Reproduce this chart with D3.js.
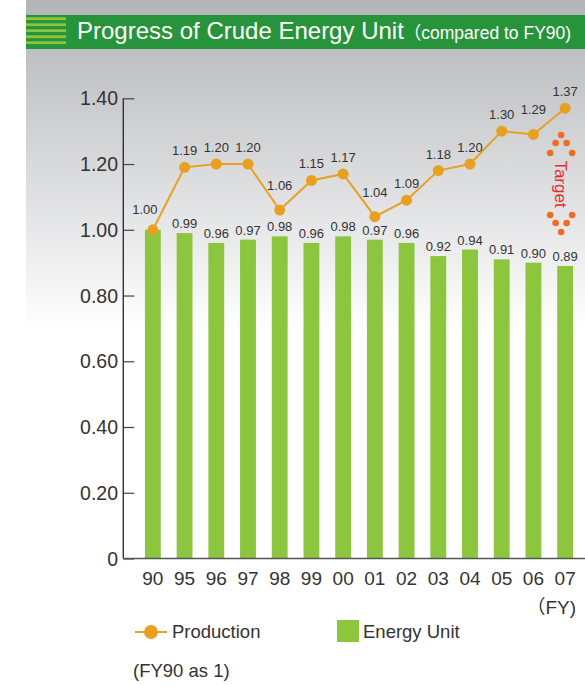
<!DOCTYPE html>
<html>
<head>
<meta charset="utf-8">
<script src="https://cdn.jsdelivr.net/npm/d3@7"></script>
<style>
  html, body { margin: 0; padding: 0; background: #fff; }
  svg { display: block; }
  text { font-family: "Liberation Sans", Arial, "Noto Sans CJK JP", sans-serif; }
</style>
</head>
<body>
<svg id="chart" width="585" height="685"></svg>
<script>
// Fiscal years (FY1990, FY1995 … FY2007)
const years = ["90", "95", "96", "97", "98", "99", "00", "01", "02", "03", "04", "05", "06", "07"];
// Production index, FY90 = 1
const production = [1.00, 1.19, 1.20, 1.20, 1.06, 1.15, 1.17, 1.04, 1.09, 1.18, 1.20, 1.30, 1.29, 1.37];
// Crude energy unit index, FY90 = 1
const energyUnit = [1.00, 0.99, 0.96, 0.97, 0.98, 0.96, 0.98, 0.97, 0.96, 0.92, 0.94, 0.91, 0.90, 0.89];
// Y axis ticks and their labels
const yTicks = [0, 0.2, 0.4, 0.6, 0.8, 1.0, 1.2, 1.4];
const yTickLabels = ["0", "0.20", "0.40", "0.60", "0.80", "1.00", "1.20", "1.40"];

const svg = d3.select("#chart");
const W = 585;

const colors = {
  bar: "#8cc63f",
  line: "#e8a020",
  text: "#333333",
  band: "#27933b",
  stripe: "#8cc63f",
  target: "#ee2a2a",
  dot: "#f26b21"
};

// Background gradient panel
const defs = svg.append("defs");
const grad = defs.append("linearGradient").attr("id", "bgGrad")
  .attr("x1", 0).attr("y1", 0).attr("x2", 0).attr("y2", 1);
grad.append("stop").attr("offset", "0%").attr("stop-color", "#b3b4b8");
grad.append("stop").attr("offset", "100%").attr("stop-color", "#ffffff");
svg.append("rect").attr("x", 26).attr("y", 0).attr("width", W - 26).attr("height", 332)
  .attr("fill", "url(#bgGrad)");

// Title band
svg.append("rect").attr("x", 26).attr("y", 15).attr("width", W - 26).attr("height", 34)
  .attr("fill", colors.band);
svg.append("g").selectAll("rect").data(d3.range(5)).join("rect")
  .attr("x", 26).attr("y", i => 17.3 + i * 6).attr("width", 40).attr("height", 2.8)
  .attr("fill", colors.stripe);
const title = svg.append("text").attr("x", 77).attr("y", 39).attr("fill", "#fff");
title.append("tspan").attr("font-size", 24).text("Progress of Crude Energy Unit");
title.append("tspan").attr("font-size", 17.5).text("（compared to FY90)");

// Scales
const x = d3.scaleBand().domain(years).range([137, 581]).paddingInner(0.5).paddingOuter(0.25);
const y = d3.scaleLinear().domain([0, 1.4]).range([558.5, 98.3]);
const cx = d => x(d) + x.bandwidth() / 2;

// Bars
svg.append("g").selectAll("rect").data(years).join("rect")
  .attr("x", d => x(d))
  .attr("width", x.bandwidth())
  .attr("y", (d, i) => y(energyUnit[i]))
  .attr("height", (d, i) => y(0) - y(energyUnit[i]))
  .attr("fill", colors.bar);

// Y axis with inner ticks
const yAxis = d3.axisRight(y).tickValues(yTicks).tickSize(11).tickFormat("");
const yg = svg.append("g").attr("transform", "translate(123.3,0)").call(yAxis);
yg.select(".domain").remove();
yg.selectAll(".tick line").attr("stroke", "#444").attr("stroke-width", 1.2);
svg.append("line").attr("x1", 123.3).attr("x2", 123.3).attr("y1", y(1.4)).attr("y2", y(0))
  .attr("stroke", "#333").attr("stroke-width", 1.4);
svg.append("g").selectAll("text").data(yTicks).join("text")
  .attr("x", 118).attr("y", d => y(d) + 7)
  .attr("text-anchor", "end").attr("font-size", 19.5).attr("fill", colors.text)
  .text((d, i) => yTickLabels[i]);

// X axis
const xAxis = d3.axisBottom(x).tickSize(0).tickPadding(0);
const xg = svg.append("g").attr("transform", `translate(0,${y(0)})`).call(xAxis);
xg.select(".domain").remove();
xg.selectAll("text").remove();
svg.append("line").attr("x1", 123.3).attr("x2", W).attr("y1", y(0)).attr("y2", y(0))
  .attr("stroke", "#555").attr("stroke-width", 1.4);
svg.append("g").selectAll("text").data(years).join("text")
  .attr("x", d => cx(d)).attr("y", 585)
  .attr("text-anchor", "middle").attr("font-size", 19).attr("fill", colors.text)
  .text(d => d);
svg.append("text").attr("x", 576).attr("y", 614).attr("text-anchor", "end")
  .attr("font-size", 19).attr("fill", colors.text).text("（FY)");

// Bar value labels (the base year shares its value with the production label)
svg.append("g").selectAll("text").data(years.slice(1)).join("text")
  .attr("x", d => cx(d)).attr("y", (d, i) => y(energyUnit[i + 1]) - 5)
  .attr("text-anchor", "middle").attr("font-size", 13).attr("fill", colors.text)
  .text((d, i) => energyUnit[i + 1].toFixed(2));

// Production line
const line = d3.line().x(d => cx(d[0])).y(d => y(d[1]));
const pts = years.map((d, i) => [d, production[i]]);
svg.append("path").datum(pts).attr("d", line)
  .attr("fill", "none").attr("stroke", colors.line).attr("stroke-width", 2);
svg.append("g").selectAll("circle").data(pts).join("circle")
  .attr("cx", d => cx(d[0])).attr("cy", d => y(d[1])).attr("r", 5.5)
  .attr("fill", colors.line);

// Production value labels: lifted higher where the line dips into the point
svg.append("g").selectAll("text").data(pts).join("text")
  .attr("x", (d, i) => cx(d[0]) - (i === 0 ? 8 : 0))
  .attr("y", (d, i) => {
    const prev = i > 0 ? production[i - 1] : d[1];
    const next = i < production.length - 1 ? production[i + 1] : d[1];
    const dip = (prev > d[1] && next > d[1]);
    return y(d[1]) - (dip ? 20 : (i === 0 ? 16 : 12));
  })
  .attr("text-anchor", "middle").attr("font-size", 13).attr("fill", colors.text)
  .text(d => d[1].toFixed(2));

// Target marker next to the final year
const tx = cx(years[years.length - 1]) - 4;
const ty = 184;
const dotOffsets = [
  [0, -49], [-5.5, -41], [5.5, -41], [-11, -31], [11, -31],
  [-11, 31], [11, 31], [-5.5, 39], [5.5, 39], [0, 48]
];
svg.append("g").selectAll("circle").data(dotOffsets).join("circle")
  .attr("cx", d => tx + d[0]).attr("cy", d => ty + d[1]).attr("r", 3.3)
  .attr("fill", colors.dot);
svg.append("text").attr("transform", `translate(${tx - 6},${ty}) rotate(90)`)
  .attr("text-anchor", "middle").attr("font-size", 17).attr("fill", colors.target)
  .text("Target");

// Legend
const lg = svg.append("g");
lg.append("line").attr("x1", 135).attr("x2", 167).attr("y1", 632).attr("y2", 632)
  .attr("stroke", colors.line).attr("stroke-width", 2);
lg.append("circle").attr("cx", 151).attr("cy", 632).attr("r", 7).attr("fill", colors.line);
lg.append("text").attr("x", 172).attr("y", 638).attr("font-size", 18.5).attr("fill", colors.text)
  .text("Production");
lg.append("rect").attr("x", 337).attr("y", 620).attr("width", 22).attr("height", 22)
  .attr("fill", colors.bar);
lg.append("text").attr("x", 363).attr("y", 638).attr("font-size", 18.5).attr("fill", colors.text)
  .text("Energy Unit");
svg.append("text").attr("x", 133).attr("y", 677).attr("font-size", 18.5).attr("fill", colors.text)
  .text("(FY90 as 1)");
</script>
</body>
</html>
